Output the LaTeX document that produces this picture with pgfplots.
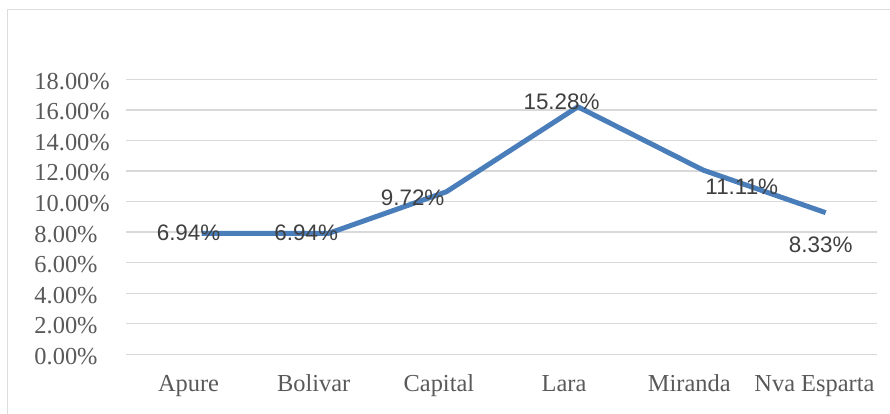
\documentclass[border=0pt]{standalone}
\usepackage{pgfplots}
\pgfplotsset{compat=1.18}
\usepackage{fontspec}
\setmainfont{Liberation Serif}
\newfontfamily\dlfont{Liberation Sans}
\definecolor{lineblue}{HTML}{4A7EBB}
\definecolor{tickgray}{HTML}{595959}
\definecolor{labgray}{HTML}{404040}
\definecolor{gridgray}{HTML}{D9D9D9}
\definecolor{framegray}{HTML}{DDDDDD}
\begin{document}
\begin{tikzpicture}
\path[use as bounding box] (0bp,0bp) rectangle (890bp,414bp);
\draw[framegray, line width=1.5bp] (7.5bp,0bp) -- (7.5bp,404.5bp) -- (890bp,404.5bp);
\begin{axis}[
  at={(126bp,59.7bp)}, anchor=south west,
  scale only axis, width=751bp, height=275bp,
  xmin=-0.5, xmax=5.5, ymin=0, ymax=18,
  ytick={0,2,...,18},
  xtick={0,1,2,3,4,5},
  xticklabels={Apure,Bolivar,Capital,Lara,Miranda,Nva Esparta},
  ymajorgrids, grid style={gridgray, line width=1.3bp},
  axis line style={draw=none}, major tick style={draw=none},
  clip=false,
  /pgf/number format/assume math mode=true,
  yticklabel={\pgfmathprintnumber[fixed,fixed zerofill,precision=2]{\tick}\%},
  yticklabel style={anchor=west, inner sep=0pt, xshift=-91.7bp, yshift=-2bp,
    font=\fontsize{24.5}{26}\selectfont, text=tickgray},
  xticklabel style={anchor=base, inner sep=0pt, yshift=-37.4bp,
    font=\fontsize{24.5}{26}\selectfont, text=tickgray},
]
\addplot[lineblue, line width=5bp, line join=round, mark=none] coordinates {
  (0.105,7.92) (1.12,7.92) (2.06,10.64) (3.11,16.2) (4.11,12.06) (5.09,9.27)
};
\addplot[draw=none, mark=none, nodes near coords, point meta=explicit symbolic,
  every node near coord/.append style={anchor=center, inner sep=0pt,
    font=\dlfont\fontsize{22.5}{24}\selectfont, text=labgray}]
  table[meta=label] {
x y label
0 7.94 6.94\%
0.94 7.94 6.94\%
1.79 10.23 9.72\%
2.98 16.53 15.28\%
4.42 10.97 11.11\%
5.05 7.15 8.33\%
};
\end{axis}
\end{tikzpicture}
\end{document}
